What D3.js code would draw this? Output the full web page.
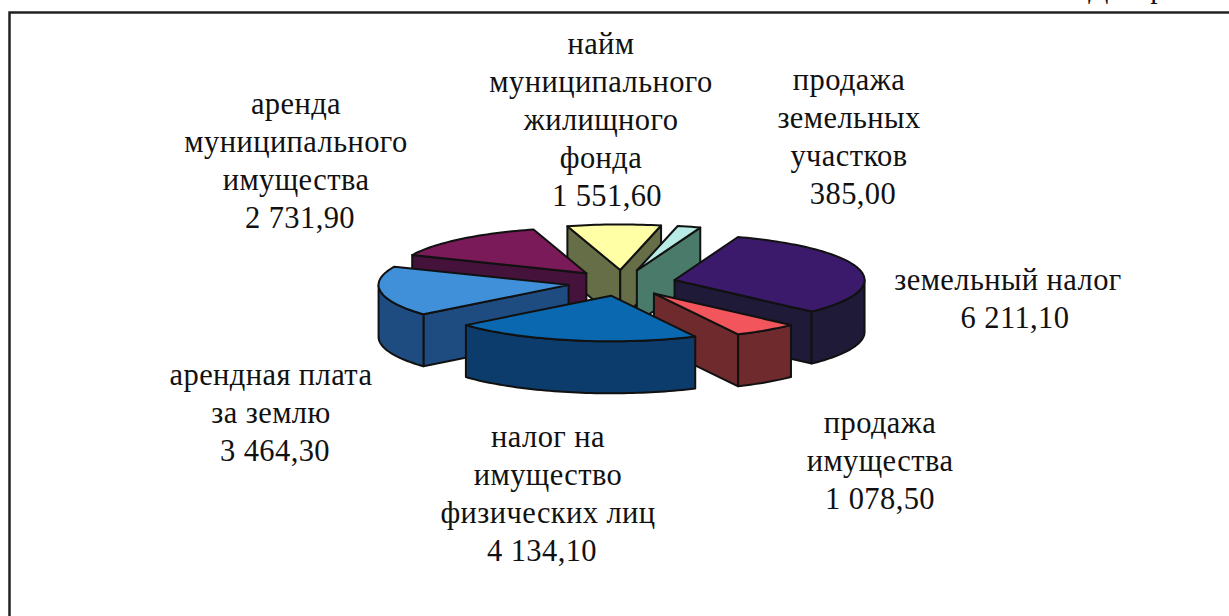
<!DOCTYPE html>
<html>
<head>
<meta charset="utf-8">
<script src="https://cdn.jsdelivr.net/npm/d3@7"></script>
<style>
    html, body { margin: 0; padding: 0; background: #fff; overflow: hidden; }
    text { font-family: "Liberation Serif", serif; fill: #111; }
</style>
</head>
<body>
<div id="viz"></div>
<script>
var categories = [
        ['земельный налог'],
        ['продажа', 'имущества'],
        ['налог на', 'имущество', 'физических лиц'],
        ['арендная плата', 'за землю'],
        ['аренда', 'муниципального', 'имущества'],
        ['найм', 'муниципального', 'жилищного', 'фонда'],
        ['продажа', 'земельных', 'участков']
    ],
    values = [6211.1, 1078.5, 4134.1, 3464.3, 2731.9, 1551.6, 385],
    topColors = ['#3b1a6c', '#f2565c', '#0a68b0', '#3f90d8', '#7a1a58', '#ffffa6', '#b9ebe6'],
    wallColors = ['#1f1a38', '#6f2a2e', '#0b3c6c', '#1f4c80', '#44123a', '#666e48', '#4a7a6a'],
    labelAnchors = [[1008, 290], [880, 433], [548, 447], [271, 385], [296, 114], [601, 54], [849, 90]],
    valueShifts = [7, 0, -6, 4, 4, 6, 4],

    width = 1229,
    height = 616,
    lineHeight = 38,
    cx = 622,
    cy = 283,
    radius = 190,
    tilt = 0.24,
    explode = 54,
    depth = 52,

    svg = d3.select('#viz')
        .append('svg')
            .attr('width', width)
            .attr('height', height),

    russian = d3.formatLocale({decimal: ',', thousands: ' ', grouping: [3], currency: ['', '']}),
    formatValue = russian.format(',.2f'),

    // d3.pie angles: clockwise from north, first slice starts a bit right of the top
    slices = d3.pie().sort(null).startAngle(19.5 * Math.PI / 180).endAngle(379.5 * Math.PI / 180)(values),

    project = function (slice, angle, r, drop) {
        var mid = (slice.startAngle + slice.endAngle) / 2;
        return [
            cx + explode * Math.sin(mid) + r * Math.sin(angle),
            cy - tilt * explode * Math.cos(mid) - tilt * r * Math.cos(angle) + drop
        ];
    },

    line = d3.line(),

    arcPoints = function (slice, from, to, drop) {
        var steps = Math.max(2, Math.ceil((to - from) * 40));
        return d3.range(steps + 1).map(function (i) {
            return project(slice, from + (to - from) * i / steps, radius, drop);
        });
    },

    addFace = function (group, points, color) {
        group.append('path')
            .attr('d', line(points) + 'Z')
            .style('fill', color)
            .style('stroke', '#111')
            .style('stroke-width', 2)
            .style('stroke-linejoin', 'round');
    },

    radialWall = function (slice, angle) {
        return [
            project(slice, 0, 0, 0),
            project(slice, angle, radius, 0),
            project(slice, angle, radius, depth),
            project(slice, 0, 0, depth)
        ];
    },

    drawSlice = function (slice) {
        var group = svg.append('g').attr('class', 'slice'),
            wall = wallColors[slice.index],
            a0 = slice.startAngle,
            a1 = slice.endAngle,
            from = Math.max(a0, Math.PI / 2),
            to = Math.min(a1, 3 * Math.PI / 2);

        // only the faces turned to the viewer
        if (Math.sin(a0) < 0) {
            addFace(group, radialWall(slice, a0), wall);
        }
        if (Math.sin(a1) > 0) {
            addFace(group, radialWall(slice, a1), wall);
        }
        if (to > from) {
            addFace(group, arcPoints(slice, from, to, 0).concat(arcPoints(slice, from, to, depth).reverse()), wall);
        }
        addFace(group, [project(slice, 0, 0, 0)].concat(arcPoints(slice, a0, a1, 0)), topColors[slice.index]);
    };

// frame, open at the bottom and right where the scan is cut
svg.append('path')
    .attr('d', line([[9.5, height], [9.5, 12.5], [width, 12.5]]))
    .style('fill', 'none')
    .style('stroke', '#222')
    .style('stroke-width', 2.5);

// heading of the page, only its feet are left in the scan
svg.append('text')
    .attr('x', 1088)
    .attr('y', -2)
    .style('font-size', '30px')
    .text('Диаграмма');

// back to front
slices.slice()
    .sort(function (a, b) {
        return Math.cos((b.startAngle + b.endAngle) / 2) - Math.cos((a.startAngle + a.endAngle) / 2);
    })
    .forEach(drawSlice);

categories.forEach(function (lines, i) {
    var label = svg.append('text')
            .attr('text-anchor', 'middle')
            .style('font-size', '30.5px')
            .style('letter-spacing', '0.4px');

    lines.forEach(function (row, j) {
        label.append('tspan')
            .attr('x', labelAnchors[i][0])
            .attr('y', labelAnchors[i][1] + j * lineHeight)
            .text(row);
    });

    label.append('tspan')
        .attr('x', labelAnchors[i][0] + valueShifts[i])
        .attr('y', labelAnchors[i][1] + lines.length * lineHeight)
        .text(formatValue(values[i]));
});
</script>
</body>
</html>
